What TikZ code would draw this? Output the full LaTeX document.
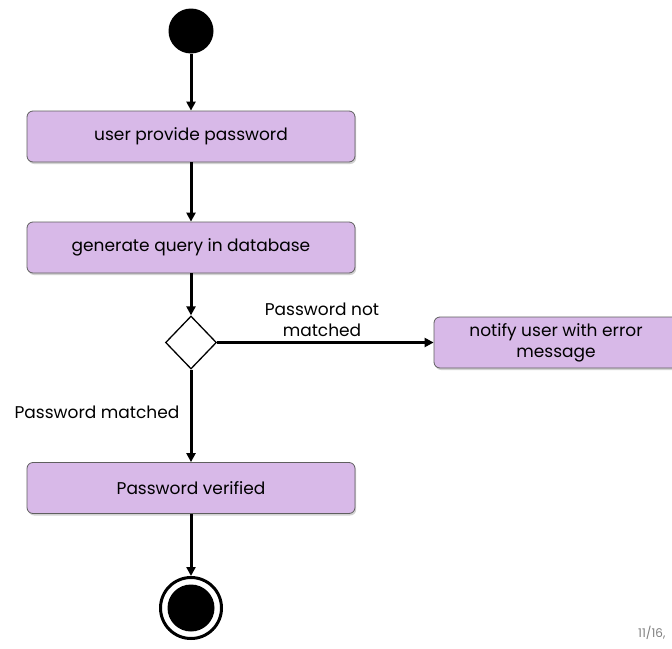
\documentclass[tikz,border=0pt]{standalone}
\usepackage{fontspec}
\setmainfont{Poppins}
\usetikzlibrary{shapes.geometric,arrows.meta,shadows}
\definecolor{boxfill}{RGB}{216,185,232}
\definecolor{boxline}{RGB}{95,95,95}
\begin{document}
\begin{tikzpicture}[x=1pt,y=-1pt,
  act/.style={rectangle, rounded corners=6pt, draw=boxline, line width=0.8pt, fill=boxfill,
    minimum width=328pt, minimum height=51pt, inner sep=0pt, align=center,
    font=\fontsize{17}{21}\selectfont,
    drop shadow={shadow xshift=1.2pt, shadow yshift=-2pt, opacity=0.35}},
  arr/.style={line width=3pt, -{Triangle[length=9pt,width=9pt]}},
  lbl/.style={font=\fontsize{17}{21}\selectfont, align=center, inner sep=0pt}
]
\useasboundingbox[fill=white] (0,0) rectangle (672,648);
\node[circle, fill=black, minimum size=45pt, inner sep=0pt] (start) at (191,31) {};
\node[act] (b1) at (191,136.5) {user provide password};
\node[act] (b2) at (191,247.5) {generate query in database};
\node[diamond, draw=black, line width=1.3pt, fill=white, minimum width=51pt, minimum height=53pt, inner sep=0pt] (dia) at (191,342.5) {};
\node[act, minimum width=244pt] (b3) at (556,342.5) {notify user with error\\message};
\node[act] (b4) at (191,488) {Password verified};
\node[circle, draw=black, line width=3pt, fill=white, minimum size=61pt, inner sep=0pt] (end) at (191,608) {};
\node[circle, fill=black, minimum size=47pt, inner sep=0pt] (endin) at (end.center) {};

\draw[arr] (start) -- (b1);
\draw[arr] (b1) -- (b2);
\draw[arr] (b2) -- (dia);
\draw[arr] (dia.east) -- (b3.west);
\draw[arr] (dia.south) -- (b4);
\draw[arr] (b4) -- (end);

\node[lbl] (lnm) at (322,320) {Password not\\matched};
\node[lbl] (lm) at (97,412) {Password matched};
\node[font=\fontsize{12}{14}\selectfont, text=gray, anchor=west, inner sep=0pt] (pg) at (638,633) {11/16,};
\end{tikzpicture}
\end{document}
